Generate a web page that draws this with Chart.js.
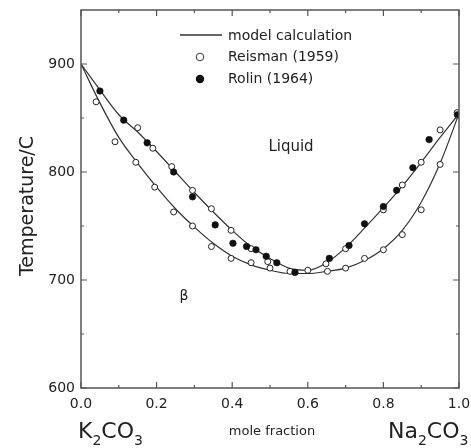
<!DOCTYPE html>
<html>
<head>
<meta charset="utf-8">
<script src="https://cdn.jsdelivr.net/npm/chart.js@4"></script>
<style>
  html, body { margin: 0; padding: 0; background: #fff; }
  canvas { display: block; }
</style>
</head>
<body>
<canvas id="chart" width="471" height="448"></canvas>
<script>
// axis ticks
const xTicks = [0, 0.2, 0.4, 0.6, 0.8, 1.0];
const xMinor = [0.1, 0.3, 0.5, 0.7, 0.9];
const yTicks = [600, 700, 800, 900];
const yMinor = [650, 750, 850];

// model calculation curves (liquidus / solidus)
const modelX = [0, 0.05, 0.1, 0.15, 0.2, 0.25, 0.3, 0.35, 0.4, 0.45, 0.5, 0.55, 0.6, 0.65, 0.7, 0.75, 0.8, 0.85, 0.9, 0.95, 1.0];
const upperT = [900, 876, 853, 837, 819, 800, 781, 763, 746, 731, 720, 711, 709, 716, 730, 748, 767, 787, 809, 832, 854];
const lowerT = [900, 864, 832, 808, 786, 766, 749, 734, 722, 714, 709, 706, 706, 708, 711, 718, 729, 746, 772, 808, 854];

// Reisman (1959) - open circles
const reismanX = [0.04, 0.09, 0.145, 0.15, 0.19, 0.195, 0.24, 0.245, 0.295, 0.295, 0.345, 0.345, 0.397, 0.397, 0.45, 0.45, 0.494, 0.50, 0.553, 0.60, 0.648, 0.652, 0.70, 0.70, 0.75, 0.80, 0.80, 0.85, 0.85, 0.90, 0.90, 0.95, 0.95, 0.995];
const reismanT = [865, 828, 809, 841, 822, 786, 805, 763, 783, 750, 766, 731, 746, 720, 729, 716, 717, 711, 708, 709, 715, 708, 729, 711, 720, 765, 728, 788, 742, 809, 765, 839, 807, 855];

// Rolin (1964) - filled circles
const rolinX = [0.05, 0.113, 0.175, 0.245, 0.295, 0.355, 0.402, 0.438, 0.463, 0.49, 0.518, 0.566, 0.657, 0.709, 0.75, 0.80, 0.835, 0.878, 0.921, 0.996];
const rolinT = [875, 848, 827, 800, 777, 751, 734, 731, 728, 722, 716, 707, 720, 732, 752, 768, 783, 804, 830, 853];

const FONT = "'DejaVu Sans', sans-serif";
const INK = "#222";

function pts(xs, ys) {
    return xs.map((x, i) => ({ x: x, y: ys[i] }));
}

// text with subscripts, parts = [[text, isSub], ...]
function drawChem(ctx, x, y, parts, size, subSize) {
    ctx.textAlign = "left";
    ctx.textBaseline = "alphabetic";
    parts.forEach(p => {
        ctx.font = (p[1] ? subSize : size) + "px " + FONT;
        ctx.fillText(p[0], x, p[1] ? y + 7 : y);
        x += ctx.measureText(p[0]).width;
    });
}

// no extra label padding around the plot box
function fixBox(s, size) {
    if (s.isHorizontal()) s.height = size; else s.width = size;
    s.paddingTop = 0;
    s.paddingBottom = 0;
    s.paddingLeft = 0;
    s.paddingRight = 0;
}

const framePlugin = {
    id: "frame",
    afterDraw(chart) {
        const ctx = chart.ctx;
        const a = chart.chartArea;
        const xs = chart.scales.x;
        const ys = chart.scales.y;

        ctx.save();
        ctx.strokeStyle = "#555";
        ctx.lineWidth = 1.5;
        ctx.strokeRect(a.left, a.top, a.right - a.left, a.bottom - a.top);

        // inward ticks on all four sides
        ctx.lineWidth = 1.2;
        ctx.beginPath();
        xTicks.concat(xMinor).forEach(v => {
            const px = xs.getPixelForValue(v);
            const len = xTicks.includes(v) ? 6 : 3;
            ctx.moveTo(px, a.bottom); ctx.lineTo(px, a.bottom - len);
            ctx.moveTo(px, a.top); ctx.lineTo(px, a.top + len);
        });
        yTicks.concat(yMinor).forEach(v => {
            const py = ys.getPixelForValue(v);
            const len = yTicks.includes(v) ? 6 : 3;
            ctx.moveTo(a.left, py); ctx.lineTo(a.left + len, py);
            ctx.moveTo(a.right, py); ctx.lineTo(a.right - len, py);
        });
        ctx.stroke();

        ctx.fillStyle = INK;

        // y axis title
        ctx.save();
        ctx.translate(33, 206);
        ctx.rotate(-Math.PI / 2);
        ctx.font = "19px " + FONT;
        ctx.textAlign = "center";
        ctx.textBaseline = "alphabetic";
        ctx.fillText("Temperature/C", 0, 0);
        ctx.restore();

        // x axis labels
        ctx.font = "13px " + FONT;
        ctx.textAlign = "center";
        ctx.textBaseline = "middle";
        ctx.fillText("mole fraction", 272, 432);
        drawChem(ctx, 78, 438, [["K", 0], ["2", 1], ["CO", 0], ["3", 1]], 22, 14);
        drawChem(ctx, 388, 438, [["Na", 0], ["2", 1], ["CO", 0], ["3", 1]], 22, 14);

        // region labels
        ctx.font = "15px " + FONT;
        ctx.textAlign = "center";
        ctx.textBaseline = "middle";
        ctx.fillText("Liquid", 291, 147);
        ctx.font = "14px " + FONT;
        ctx.fillText("\u03B2", 184, 296);

        // legend
        ctx.strokeStyle = "#333";
        ctx.lineWidth = 1.3;
        ctx.beginPath();
        ctx.moveTo(180, 35); ctx.lineTo(222, 35);
        ctx.stroke();

        ctx.lineWidth = 1;
        ctx.fillStyle = "#fff";
        ctx.beginPath();
        ctx.arc(200, 57, 3.8, 0, Math.PI * 2);
        ctx.fill();
        ctx.stroke();
        ctx.fillStyle = "#111";
        ctx.beginPath();
        ctx.arc(200, 79, 4.2, 0, Math.PI * 2);
        ctx.fill();

        ctx.fillStyle = INK;
        ctx.font = "14px " + FONT;
        ctx.textAlign = "left";
        ctx.textBaseline = "middle";
        ctx.fillText("model calculation", 228, 36);
        ctx.fillText("Reisman (1959)", 228, 57);
        ctx.fillText("Rolin (1964)", 228, 79);
        ctx.restore();
    }
};

new Chart(document.getElementById("chart"), {
    type: "scatter",
    data: {
        datasets: [
            {
                label: "Reisman (1959)",
                data: pts(reismanX, reismanT),
                pointStyle: "circle",
                pointRadius: 3,
                pointBorderWidth: 1,
                pointBackgroundColor: "#fff",
                pointBorderColor: "#222",
                order: 1
            },
            {
                label: "Rolin (1964)",
                data: pts(rolinX, rolinT),
                pointStyle: "circle",
                pointRadius: 3.3,
                pointBorderWidth: 0.5,
                pointBackgroundColor: "#111",
                pointBorderColor: "#111",
                order: 0
            },
            {
                type: "line",
                label: "model calculation",
                data: pts(modelX, upperT),
                borderColor: "#333",
                borderWidth: 1.2,
                pointRadius: 0,
                cubicInterpolationMode: "monotone",
                fill: false,
                order: 2
            },
            {
                type: "line",
                label: "model calculation (solidus)",
                data: pts(modelX, lowerT),
                borderColor: "#333",
                borderWidth: 1.2,
                pointRadius: 0,
                cubicInterpolationMode: "monotone",
                fill: false,
                order: 3
            }
        ]
    },
    options: {
        responsive: false,
        animation: false,
        devicePixelRatio: 1,
        layout: {
            padding: { left: 0, right: 12, top: 10, bottom: 0 }
        },
        plugins: {
            legend: { display: false },
            tooltip: { enabled: false }
        },
        scales: {
            x: {
                type: "linear",
                min: 0,
                max: 1,
                grid: { display: false, drawTicks: false },
                border: { display: false },
                afterBuildTicks: s => { s.ticks = xTicks.map(v => ({ value: v })); },
                afterFit: s => fixBox(s, 60),
                ticks: {
                    padding: 8,
                    color: INK,
                    font: { family: FONT, size: 14 },
                    maxRotation: 0,
                    callback: v => v.toFixed(1)
                }
            },
            y: {
                type: "linear",
                min: 600,
                max: 950,
                grid: { display: false, drawTicks: false },
                border: { display: false },
                afterBuildTicks: s => { s.ticks = yTicks.map(v => ({ value: v })); },
                afterFit: s => fixBox(s, 81),
                ticks: {
                    padding: 6,
                    color: INK,
                    font: { family: FONT, size: 14 },
                    callback: v => String(v)
                }
            }
        }
    },
    plugins: [framePlugin]
});
</script>
</body>
</html>
